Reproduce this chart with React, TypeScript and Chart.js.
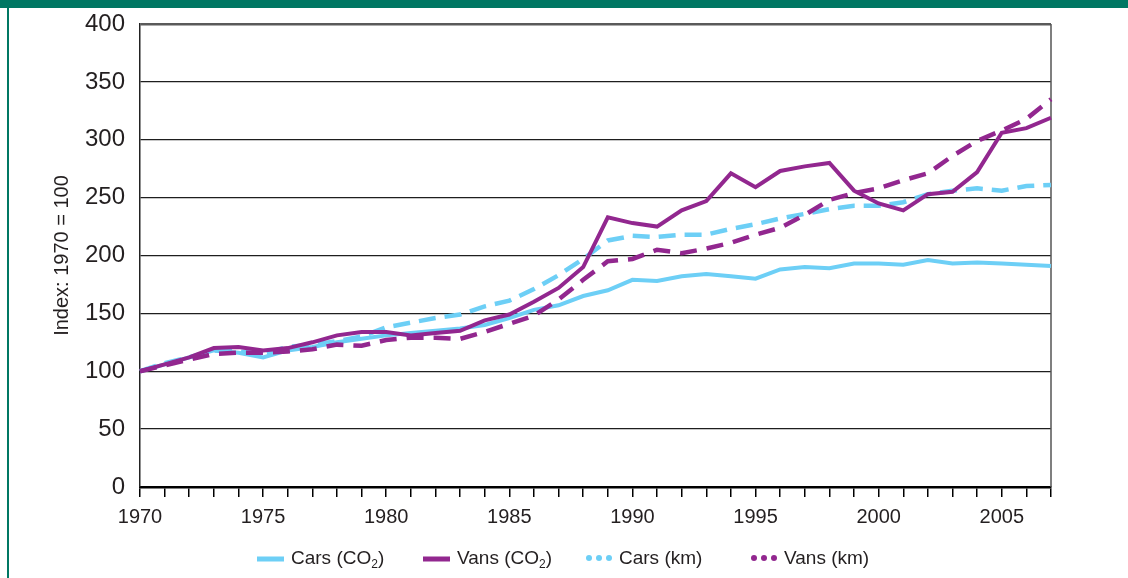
import React, { useEffect, useRef } from "react";
import { Chart, registerables } from "chart.js";

Chart.register(...registerables);

const years = [
  "1970", "1971", "1972", "1973", "1974", "1975", "1976", "1977", "1978", "1979",
  "1980", "1981", "1982", "1983", "1984", "1985", "1986", "1987", "1988", "1989",
  "1990", "1991", "1992", "1993", "1994", "1995", "1996", "1997", "1998", "1999",
  "2000", "2001", "2002", "2003", "2004", "2005", "2006", "2007",
];

const shownYearLabels = ["1970", "1975", "1980", "1985", "1990", "1995", "2000", "2005"];

const carsCO2 = [
  100, 106, 112, 118, 116, 112, 118, 121, 125, 128,
  131, 133, 135, 137, 140, 146, 153, 157, 165, 170,
  179, 178, 182, 184, 182, 180, 188, 190, 189, 193,
  193, 192, 196, 193, 194, 193, 192, 191,
];

const vansCO2 = [
  100, 106, 112, 120, 121, 118, 120, 125, 131, 134,
  134, 131, 133, 135, 144, 149, 160, 172, 190, 233,
  228, 225, 239, 247, 271, 259, 273, 277, 280, 256,
  245, 239, 253, 255, 272, 306, 310, 319,
];

const carsKm = [
  100, 107, 112, 118, 117, 115, 121, 123, 126, 130,
  138, 142, 146, 149, 156, 161, 171, 183, 197, 213,
  217, 216, 218, 218, 223, 227, 232, 236, 240, 243,
  243, 246, 253, 256, 258, 256, 260, 261,
];

const vansKm = [
  100, 105, 110, 115, 116, 116, 117, 119, 123, 122,
  127, 129, 129, 128, 134, 141, 148, 162, 179, 195,
  197, 205, 202, 206, 211, 218, 224, 235, 248, 254,
  258, 265, 271, 286, 299, 308, 318, 335,
];

const LIGHT_BLUE = "#6dcff6";
const PURPLE = "#92278f";
const TEAL = "#007763";
const FONT = "'Liberation Sans', Arial, sans-serif";
const TEXT = "#231f20";

const rightBorderPlugin = {
  id: "rightBorder",
  beforeDatasetsDraw(chart: any) {
    const { ctx, chartArea } = chart;
    ctx.save();
    ctx.strokeStyle = "#555";
    ctx.lineWidth = 1.5;
    ctx.beginPath();
    ctx.moveTo(chartArea.right, chartArea.top);
    ctx.lineTo(chartArea.right, chartArea.bottom);
    ctx.stroke();
    ctx.restore();
  },
};

function LegendItem({ color, dotted, label, sub, after, left }: any) {
  return (
    <div style={{ position: "absolute", left, top: 0, display: "flex", alignItems: "center", whiteSpace: "nowrap" }}>
      <svg width={28} height={10} style={{ marginRight: 6 }}>
        {dotted ? (
          <g fill={color}>
            <circle cx={4} cy={5} r={3} />
            <circle cx={14} cy={5} r={3} />
            <circle cx={24} cy={5} r={3} />
          </g>
        ) : (
          <rect x={0} y={2.5} width={27} height={5} fill={color} />
        )}
      </svg>
      <span>
        {label}
        {sub ? <span style={{ fontSize: 12, position: "relative", top: 4 }}>{sub}</span> : null}
        {after}
      </span>
    </div>
  );
}

export default function App() {
  const canvasRef = useRef<HTMLCanvasElement | null>(null);

  useEffect(() => {
    if (!canvasRef.current) return;
    const chart = new Chart(canvasRef.current, {
      type: "line",
      data: {
        labels: years,
        datasets: [
          {
            label: "Vans (CO2)",
            data: vansCO2,
            borderColor: PURPLE,
            borderWidth: 4,
            pointRadius: 0,
            tension: 0,
            order: 0,
          },
          {
            label: "Vans (km)",
            data: vansKm,
            borderColor: PURPLE,
            borderWidth: 4.5,
            borderDash: [17, 10],
            pointRadius: 0,
            tension: 0,
            order: 1,
          },
          {
            label: "Cars (km)",
            data: carsKm,
            borderColor: LIGHT_BLUE,
            borderWidth: 4.5,
            borderDash: [17, 9],
            pointRadius: 0,
            tension: 0,
            order: 2,
          },
          {
            label: "Cars (CO2)",
            data: carsCO2,
            borderColor: LIGHT_BLUE,
            borderWidth: 4,
            pointRadius: 0,
            tension: 0,
            order: 3,
          },
        ],
      },
      options: {
        animation: false,
        responsive: false,
        devicePixelRatio: 1,
        layout: { padding: { top: 24, right: 77, bottom: 0, left: 0 } },
        plugins: {
          legend: { display: false },
          tooltip: { enabled: false },
        },
        scales: {
          x: {
            type: "category",
            offset: false,
            afterFit: (scale: any) => {
              scale.height = 91;
            },
            grid: {
              drawOnChartArea: false,
              drawTicks: true,
              tickLength: 10,
              color: "#000",
              lineWidth: 1.5,
              offset: false,
            },
            border: { display: true, color: "#000", width: 2.5 },
            ticks: {
              autoSkip: false,
              maxRotation: 0,
              minRotation: 0,
              padding: 8,
              color: TEXT,
              font: { family: FONT, size: 20 },
              callback: (_v: any, idx: number) =>
                shownYearLabels.includes(years[idx]) ? years[idx] : "",
            },
          },
          y: {
            min: 0,
            max: 400,
            afterFit: (scale: any) => {
              scale.width = 140;
              scale.paddingTop = 0;
              scale.paddingBottom = 0;
            },
            grid: {
              drawTicks: false,
              color: (ctx: any) => (ctx.tick && ctx.tick.value === 400 ? "#5a5a5a" : "#1e1e1e"),
              lineWidth: (ctx: any) => (ctx.tick && ctx.tick.value === 400 ? 2.5 : 1.3),
            },
            border: { display: true, color: "#222", width: 1.5 },
            ticks: {
              stepSize: 50,
              padding: 15,
              color: TEXT,
              font: { family: FONT, size: 24 },
            },
            title: {
              display: true,
              text: "Index: 1970 = 100",
              color: TEXT,
              font: { family: FONT, size: 20 },
              padding: { top: 50, bottom: 0 },
            },
          },
        },
      },
      plugins: [rightBorderPlugin],
    });
    return () => chart.destroy();
  }, []);

  return (
    <div
      style={{
        position: "absolute",
        left: 0,
        top: 0,
        width: 1128,
        height: 578,
        background: "#fff",
        overflow: "hidden",
        fontFamily: FONT,
      }}
    >
      <div style={{ position: "absolute", left: 0, top: 0, width: 1128, height: 8, background: TEAL }} />
      <div style={{ position: "absolute", left: 7, top: 0, width: 2, height: 578, background: TEAL }} />
      <canvas
        ref={canvasRef}
        width={1128}
        height={578}
        style={{ position: "absolute", left: 0, top: 0, width: 1128, height: 578 }}
      />
      <div
        style={{
          position: "absolute",
          left: 0,
          top: 546,
          width: 1128,
          height: 26,
          fontSize: 19,
          color: TEXT,
          lineHeight: "24px",
        }}
      >
        <LegendItem left={257} color={LIGHT_BLUE} label="Cars (CO" sub="2" after=")" />
        <LegendItem left={423} color={PURPLE} label="Vans (CO" sub="2" after=")" />
        <LegendItem left={585} color={LIGHT_BLUE} dotted label="Cars (km)" />
        <LegendItem left={750} color={PURPLE} dotted label="Vans (km)" />
      </div>
    </div>
  );
}
